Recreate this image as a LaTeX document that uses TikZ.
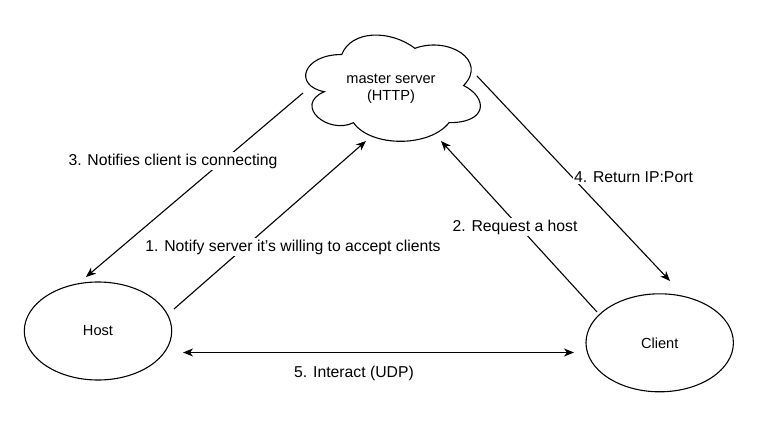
\documentclass[tikz,border=0pt]{standalone}
\usepackage{fontspec}
\setmainfont{Liberation Sans}
\usetikzlibrary{arrows.meta,shapes.geometric}
\begin{document}
\begin{tikzpicture}[x=1pt,y=-1pt,
  outline/.style={draw=black,line width=1.1pt},
  nodeellipse/.style={ellipse,draw=black,line width=1.1pt,minimum width=147.4pt,minimum height=98pt,inner sep=0pt,
    font=\fontsize{14.6}{17}\selectfont},
  cloudtext/.style={align=center,inner sep=0pt,font=\fontsize{14.6}{17}\selectfont},
  conn/.style={line width=1.1pt,-{Stealth[length=10pt,width=8pt,inset=3pt]}},
  biconn/.style={line width=1.1pt,{Stealth[length=10pt,width=8pt,inset=3pt]}-{Stealth[length=10pt,width=8pt,inset=3pt]}},
  edgelabel/.style={fill=white,inner sep=1.5pt,font=\fontsize{15.75}{18}\selectfont}]
\useasboundingbox[fill=white] (0,0) rectangle (774,423);

% master server cloud
\begin{scope}[shift={(293,23.5)},x=195pt,y=-124pt]
\draw[outline] (0.25,0.25) .. controls (0.05,0.25) and (0,0.5) .. (0.16,0.55)
  .. controls (0,0.66) and (0.18,0.9) .. (0.31,0.8)
  .. controls (0.4,1) and (0.7,1) .. (0.8,0.8)
  .. controls (1,0.8) and (1,0.6) .. (0.875,0.5)
  .. controls (1,0.3) and (0.8,0.1) .. (0.625,0.2)
  .. controls (0.5,0.05) and (0.3,0.05) .. (0.25,0.25) -- cycle;
\end{scope}
\node[cloudtext] (cloud) at (391,88.5) {master server\\(HTTP)};

\node[nodeellipse] (host) at (98,331) {Host};
\node[nodeellipse] (client) at (659.7,342.8) {Client};

% connection points
\coordinate (cloudA) at (303,93);
\coordinate (hostA) at (86,277);
\coordinate (hostB) at (174,309);
\coordinate (cloudB) at (366,141);
\coordinate (clientA) at (597,312);
\coordinate (cloudC) at (441,141);
\coordinate (cloudD) at (477,76);
\coordinate (clientB) at (670,281);
\coordinate (hostC) at (183,352.5);
\coordinate (clientC) at (574,352.5);

\draw[conn] (hostB) -- (cloudB)
  node[edgelabel] (l1) at (293,247) {1. Notify server it's willing to accept clients};
\draw[conn] (clientA) -- (cloudC)
  node[edgelabel] (l2) at (515,227) {2. Request a host};
\draw[conn] (cloudA) -- (hostA)
  node[edgelabel] (l3) at (173,161) {3. Notifies client is connecting};
\draw[conn] (cloudD) -- (clientB)
  node[edgelabel] (l4) at (633.5,177) {4. Return IP:Port};
\draw[biconn] (hostC) -- (clientC)
  node[edgelabel] (l5) at (354,373) {5. Interact (UDP)};
\end{tikzpicture}
\end{document}
